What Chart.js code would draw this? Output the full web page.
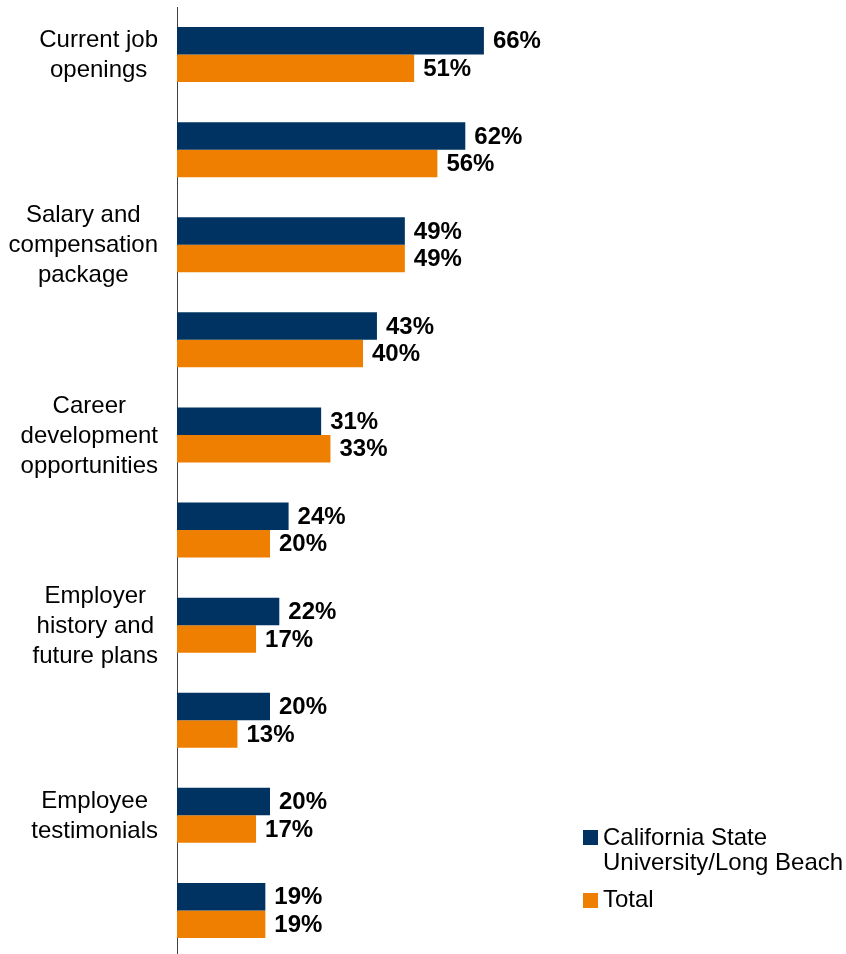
<!DOCTYPE html>
<html>
<head>
<meta charset="utf-8">
<script src="https://cdn.jsdelivr.net/npm/chart.js@4/dist/chart.umd.min.js"></script>
<style>
  html, body { margin: 0; padding: 0; background: #fff; overflow: hidden; }
  #wrap { width: 846px; height: 958px; position: relative; }
</style>
</head>
<body>
<div id="wrap"><canvas id="graphicBars"></canvas></div>
<script>
// categories (only every other label is printed on the axis, like the original)
const categories = [
  ['Current job', 'openings'],
  '',
  ['Salary and', 'compensation', 'package'],
  '',
  ['Career', 'development', 'opportunities'],
  '',
  ['Employer', 'history and', 'future plans'],
  '',
  ['Employee', 'testimonials'],
  ''
]
const seriesNames = ['California State University/Long Beach', 'Total']
const legendLines = ['California State', 'University/Long Beach']
const csulbValues = [66, 62, 49, 43, 31, 24, 22, 20, 20, 19]
const totalValues = [51, 56, 49, 40, 33, 20, 17, 13, 17, 19]

const NAVY = '#003361'
const ORANGE = '#EF7F00'
const FONT = "'Liberation Sans', Arial, sans-serif"

// category labels: each block right aligned, its lines centred inside the block
const categoryLabels = {
  id: 'categoryLabels',
  afterDraw(chart) {
    const ctx = chart.ctx
    const yScale = chart.scales.y
    const right = yScale.right - 19
    ctx.save()
    ctx.font = `24px ${FONT}`
    ctx.fillStyle = '#000'
    ctx.textAlign = 'center'
    ctx.textBaseline = 'middle'
    chart.data.labels.forEach((lab, i) => {
      if (!lab) return
      let lines = Array.isArray(lab) ? lab : [lab]
      let widest = Math.max(...lines.map(l => ctx.measureText(l).width))
      let x = right - widest / 2
      let yc = yScale.getPixelForValue(i) + 1
      lines.forEach((l, k) => {
        ctx.fillText(l, x, yc + (k - (lines.length - 1) / 2) * 30)
      })
    })
    ctx.restore()
  }
}

// value labels at the end of each bar
const barLabels = {
  id: 'barLabels',
  afterDatasetsDraw(chart) {
    const ctx = chart.ctx
    ctx.save()
    ctx.font = `bold 24px ${FONT}`
    ctx.fillStyle = '#000'
    ctx.textAlign = 'left'
    ctx.textBaseline = 'middle'
    chart.data.datasets.forEach((ds, i) => {
      chart.getDatasetMeta(i).data.forEach((bar, j) => {
        ctx.fillText(ds.data[j] + '%', bar.x + 9, bar.y + 1)
      })
    })
    ctx.restore()
  }
}

// legend in the lower right corner
const cornerLegend = {
  id: 'cornerLegend',
  afterDraw(chart) {
    const ctx = chart.ctx
    ctx.save()
    ctx.font = `24px ${FONT}`
    ctx.textAlign = 'left'
    ctx.textBaseline = 'alphabetic'

    ctx.fillStyle = NAVY
    ctx.fillRect(583, 830, 15, 15)
    ctx.fillStyle = '#000'
    ctx.fillText(legendLines[0], 603, 845)
    ctx.fillText(legendLines[1], 603, 870)

    ctx.fillStyle = ORANGE
    ctx.fillRect(583, 893, 15, 15)
    ctx.fillStyle = '#000'
    ctx.fillText(seriesNames[1], 603, 907)
    ctx.restore()
  }
}

const ctx = document.getElementById('graphicBars').getContext('2d')
const chart = new Chart(ctx, {
  type: 'bar',
  data: {
    labels: categories,
    datasets: [{
      label: seriesNames[0],
      data: csulbValues,
      backgroundColor: NAVY,
      categoryPercentage: 0.578,
      barPercentage: 1
    }, {
      label: seriesNames[1],
      data: totalValues,
      backgroundColor: ORANGE,
      categoryPercentage: 0.578,
      barPercentage: 1
    }]
  },
  options: {
    indexAxis: 'y',
    responsive: true,
    maintainAspectRatio: false,
    animation: false,
    layout: {
      padding: { top: 7, right: 204, bottom: 0, left: 0 }
    },
    plugins: {
      legend: false,
      tooltip: { enabled: false }
    },
    scales: {
      x: {
        display: false,
        min: 0,
        max: 100
      },
      y: {
        afterFit: s => { s.width = 177; s.paddingTop = 0; s.paddingBottom = 0 },
        grid: { display: false, drawTicks: false },
        border: { display: true, color: '#404040', width: 1 },
        ticks: { display: false }
      }
    }
  },
  plugins: [barLabels, categoryLabels, cornerLegend]
})
</script>
</body>
</html>
